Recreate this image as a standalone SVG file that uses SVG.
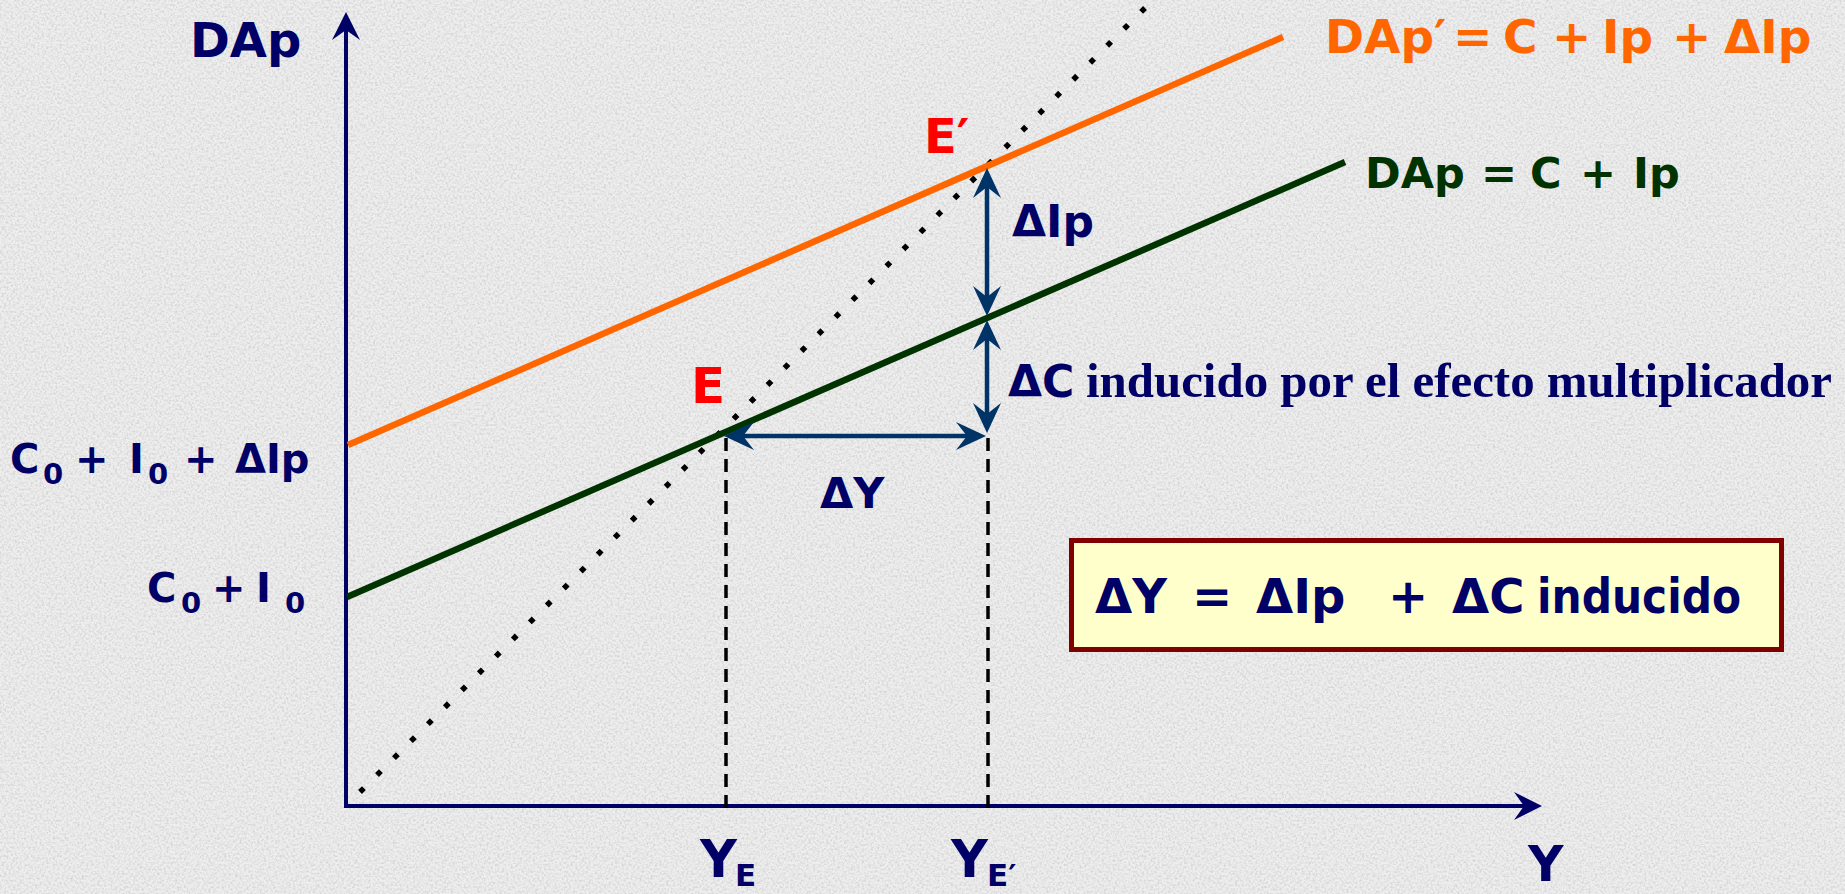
<svg xmlns="http://www.w3.org/2000/svg" width="1845" height="894" viewBox="0 0 1845 894">
<style>
.sans{font-family:"DejaVu Sans","Verdana","Liberation Sans",sans-serif;font-weight:bold}
.serif{font-family:"Liberation Serif","Times New Roman",serif;font-weight:bold}
.navy{fill:#000066}
.orange{fill:#FF6600}
.green{fill:#003300}
.red{fill:#FF0000}
.axis{stroke:#000066;stroke-width:4;fill:none}
.arr{stroke:#003366;stroke-width:4.5;fill:none}
.dash{stroke:#000000;stroke-width:3.5;stroke-dasharray:13 8;fill:none}
</style>
<defs>
<filter id="grain" x="0" y="0" width="1" height="1">
<feTurbulence type="fractalNoise" baseFrequency="0.45" numOctaves="3" seed="7"/>
<feColorMatrix type="matrix" values="0 0 0 0 0.55  0 0 0 0 0.55  0 0 0 0 0.55  2.4 0 0 0 -0.95"/>
</filter>
<marker id="ah" markerUnits="userSpaceOnUse" viewBox="-22 -16 36 32" markerWidth="36" markerHeight="32" refX="0" refY="0" orient="auto-start-reverse">
<path d="M11,0 L-19,-14 L-8,0 L-19,14 Z" fill="#003366"/>
</marker>
<marker id="axh" markerUnits="userSpaceOnUse" viewBox="-22 -16 36 32" markerWidth="36" markerHeight="32" refX="0" refY="0" orient="auto">
<path d="M10,0 L-18,-14 L-8,0 L-18,14 Z" fill="#000066"/>
</marker>
</defs>
<rect width="1845" height="894" fill="#EEEEEE"/>
<rect width="1845" height="894" filter="url(#grain)" opacity="0.6"/>

<g id="axes">
<line class="axis" x1="346" y1="808" x2="346" y2="22" marker-end="url(#axh)"/>
<line class="axis" x1="344" y1="806" x2="1532" y2="806" marker-end="url(#axh)"/>
</g>

<g id="guides">
<line x1="360" y1="792" x2="1145" y2="8" stroke="#000" stroke-width="5.5" stroke-dasharray="5.5 18.5"/>
<line class="dash" x1="726" y1="438" x2="726" y2="811"/>
<line class="dash" x1="988" y1="438" x2="988" y2="811"/>
</g>

<g id="curve-DAp-prime">
<line x1="348" y1="445" x2="1283" y2="37" stroke="#FF6600" stroke-width="6.5"/>
</g>
<g id="curve-DAp">
<line x1="347" y1="597" x2="1345" y2="162" stroke="#003300" stroke-width="6.5"/>
</g>

<g id="connectors">
<line class="arr" x1="987" y1="179" x2="987" y2="305" marker-start="url(#ah)" marker-end="url(#ah)"/>
<line class="arr" x1="987" y1="331" x2="987" y2="422" marker-start="url(#ah)" marker-end="url(#ah)"/>
<line class="arr" x1="735" y1="436" x2="975" y2="436" marker-start="url(#ah)" marker-end="url(#ah)"/>
</g>

<g id="label-DAp-axis"><text class="sans navy" x="190" y="57" font-size="48">DAp</text></g>
<g id="label-Y-axis"><text class="sans navy" x="1528" y="881" font-size="49">Y</text></g>

<g id="label-DAp-prime">
<text class="sans orange" y="53" font-size="47"><tspan x="1325">DAp′</tspan><tspan x="1453">=</tspan><tspan x="1503">C</tspan><tspan x="1552">+</tspan><tspan x="1602">Ip</tspan><tspan x="1672">+</tspan><tspan x="1724">ΔIp</tspan></text>
</g>
<g id="label-DAp">
<text class="sans green" y="188" font-size="43"><tspan x="1365">DAp</tspan><tspan x="1481">=</tspan><tspan x="1530">C</tspan><tspan x="1580">+</tspan><tspan x="1633">Ip</tspan></text>
</g>

<g id="label-C0I0dIp">
<text class="sans navy" font-size="40"><tspan x="10" y="473">C</tspan><tspan x="43" y="484" font-size="29">0</tspan><tspan x="75" y="473">+</tspan><tspan x="129" y="473">I</tspan><tspan x="148" y="484" font-size="29">0</tspan><tspan x="184" y="473">+</tspan><tspan x="235" y="473">ΔIp</tspan></text>
</g>
<g id="label-C0I0">
<text class="sans navy" font-size="40"><tspan x="147" y="602">C</tspan><tspan x="181" y="613" font-size="29">0</tspan><tspan x="212" y="602">+</tspan><tspan x="256" y="602">I</tspan><tspan x="285" y="613" font-size="29">0</tspan></text>
</g>

<g id="point-E"><text class="sans red" x="691" y="403" font-size="50">E</text></g>
<g id="point-E-prime"><text class="sans red" x="924" y="153" font-size="48">E′</text></g>

<g id="label-dIp"><text class="sans navy" x="1012" y="237" font-size="44">ΔIp</text></g>
<g id="label-dC">
<text class="sans navy" x="1008" y="397" font-size="44">ΔC</text>
<text class="serif navy" x="1086" y="397" font-size="49" textLength="746" lengthAdjust="spacingAndGlyphs">inducido por el efecto multiplicador</text>
</g>
<g id="label-dY"><text class="sans navy" x="820" y="508" font-size="43">ΔY</text></g>

<g id="label-YE">
<text class="sans navy" font-size="51"><tspan x="700" y="877">Y</tspan><tspan x="735" y="886" font-size="31">E</tspan></text>
</g>
<g id="label-YEprime">
<text class="sans navy" font-size="51"><tspan x="951" y="877">Y</tspan><tspan x="987" y="886" font-size="31">E′</tspan></text>
</g>

<g id="box-equation">
<rect x="1071.5" y="540.5" width="710" height="109" fill="#FFFFCC" stroke="#800000" stroke-width="5"/>
<text class="sans navy" y="613" font-size="48"><tspan x="1095">ΔY</tspan><tspan x="1192">=</tspan><tspan x="1256">ΔIp</tspan><tspan x="1388">+</tspan><tspan x="1452">ΔC</tspan><tspan x="1537" textLength="204" lengthAdjust="spacingAndGlyphs">inducido</tspan></text>
</g>
</svg>
